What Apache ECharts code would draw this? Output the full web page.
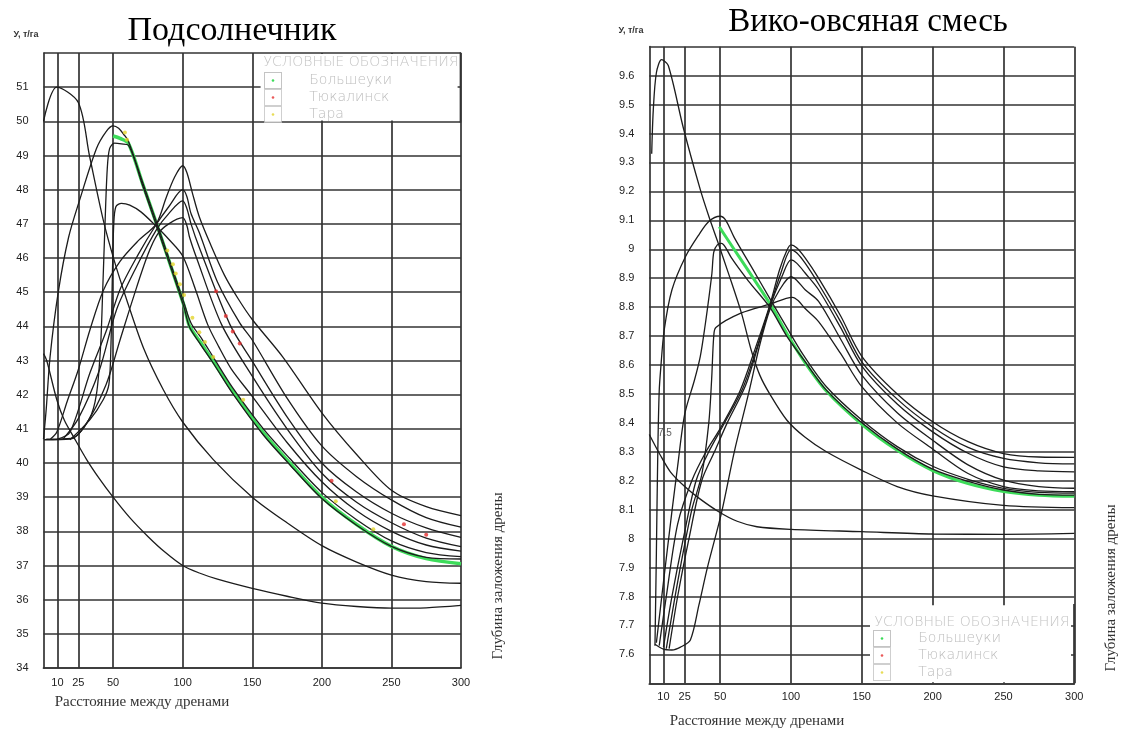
<!DOCTYPE html>
<html><head><meta charset="utf-8">
<script src="https://cdn.jsdelivr.net/npm/echarts@6/dist/echarts.min.js"></script>
<style>html,body{margin:0;padding:0;background:#fff}#c{width:1124px;height:729px}</style>
</head><body><div id="c"></div>
<script>
// ---- shared ticks ----
const xTicks = [10, 25, 50, 100, 150, 200, 250, 300];

// ---- Подсолнечник (left) ----
const sunK = [[0,43.2],[2.3,43.0],[9.5,41.86],[15,41.25],[21.4,40.78],[31,40.1],[40,39.55],[50,39.0],[62,38.4],[75,37.85],[87,37.4],[100,37.0],[112,36.78],[125,36.6],[150,36.33],[175,36.1],[200,35.9],[225,35.8],[250,35.75],[275,35.76],[300,35.83]];
const sunA = [[0,50.0],[9.5,51.0],[25,50.55],[33,49.0],[43,47.1],[51,45.9],[60,44.75],[72,43.35],[86,42.15],[100,41.2],[122,40.1],[150,39.0],[175,38.25],[200,37.58],[225,37.1],[250,36.72],[275,36.53],[300,36.48]];
const sunD = [[0,40.7],[2,41.6],[4.7,43.1],[10.6,45.0],[18,46.6],[26,47.7],[38,49.2],[45,49.7],[50,49.87],[54,49.8],[58,49.6],[61,49.42],[71,48.24],[81,47.07],[91,45.88],[101,44.68],[106,44.1],[114,43.62],[122,43.1],[136,42.2],[158,41.0],[177,40.13],[200,39.14],[225,38.34],[250,37.72],[275,37.38],[300,37.26]];
const sunE = [[2,40.7],[20,40.72],[33,41.3],[38,42.0],[41,43.4],[42.5,45.0],[44.2,47.0],[45.8,48.6],[47.5,49.2],[51,49.36],[56,49.34],[61,49.3],[71,48.15],[81,46.97],[91,45.78],[101,44.55],[105,43.97],[113,43.46],[122,42.92],[136,42.03],[158,40.82],[177,39.95],[200,38.96],[225,38.18],[250,37.56],[275,37.24],[300,37.19]];
const sunF = [[19,40.68],[33.4,41.27],[43,41.86],[47,42.3],[48.5,43.5],[49.5,45.5],[50.5,47.0],[52,47.5],[56,47.6],[62,47.55],[70,47.35],[81,46.93],[90,46.55],[100,46.06],[109,45.1],[118,44.05],[126,43.4],[135,42.75],[150,41.95],[175,40.6],[200,39.45],[225,38.6],[250,38.0],[275,37.6],[300,37.42]];
const sunG = [[5,40.7],[9.5,40.9],[17,41.8],[25,42.73],[33.4,43.9],[43,45.05],[55,45.9],[68,46.5],[81,47.0],[88,47.75],[94,48.35],[100,48.7],[103,48.5],[107,47.9],[112,47.2],[120,46.4],[130,45.5],[140,44.8],[150,44.2],[172,43.1],[200,41.47],[225,40.25],[250,39.2],[275,38.72],[300,38.46]];
const sunH = [[10,40.7],[19,40.9],[33.4,42.64],[45.4,43.9],[55,45.08],[68,46.1],[81,46.98],[90,47.5],[100,48.0],[103,47.8],[106,47.3],[112,46.74],[125,45.3],[141,44.1],[150,43.6],[175,41.9],[200,40.5],[225,39.6],[250,38.92],[275,38.4],[300,38.12]];
const sunI = [[14,40.7],[25,41.3],[40,42.7],[52.6,44.5],[67,45.76],[81.3,46.84],[90,47.3],[100,47.67],[103,47.45],[106,47.0],[112,46.3],[134,44.05],[150,42.98],[175,41.35],[200,40.0],[225,39.15],[250,38.53],[275,38.1],[300,37.82]];
const sunJ = [[0.5,40.68],[19,40.7],[30,41.1],[45,42.3],[55,43.6],[65,44.9],[75,46.1],[82,46.7],[90,47.0],[100,47.18],[103,46.95],[105,46.6],[110,46.0],[128,44.05],[150,42.54],[175,41.0],[200,39.7],[225,38.85],[250,38.25],[275,37.8],[300,37.55]];
const sunGreen = [[50,49.57],[55,49.5],[61,49.36],[71,48.2],[81,47.03],[91,45.82],[101,44.6],[105,44.0],[113,43.52],[122,42.97],[136,42.1],[158,40.88],[177,40.0],[200,39.0],[225,38.2],[250,37.56],[275,37.2],[300,37.05]];
const sunRed = [[124,45.03],[131,44.3],[136,43.85],[141,43.5],[207,39.48],[259,38.21],[275,37.9]];
const sunYellow = [[58.5,49.67],[60,49.46],[89,46.22],[93,45.82],[95,45.55],[98,45.23],[101,44.92],[107,44.25],[112,43.83],[116,43.54],[122,43.1],[143.5,41.85],[210,38.88],[237,38.06]];

// ---- Вико-овсяная смесь (right) ----
const vikR1 = [[1.7,9.33],[2.8,9.48],[5,9.61],[8.7,9.655],[13.4,9.635],[24,9.42],[36,9.206],[42,9.114],[48,9.03],[56,8.915],[65,8.78],[72,8.65],[78,8.565],[85,8.5],[97,8.41],[110,8.35],[125,8.3],[150,8.236],[175,8.18],[200,8.148],[250,8.115],[300,8.107]];
const vikRb = [[0,8.36],[7.6,8.29],[15,8.23],[25,8.18],[35,8.14],[49,8.093],[62,8.06],[76,8.041],[100,8.032],[150,8.024],[200,8.016],[250,8.015],[300,8.018]];
const vikP50a = [[4,7.63],[5,7.95],[6,8.3],[7,8.51],[8.1,8.59],[10.5,8.72],[16,8.86],[25.6,8.975],[35,9.05],[42,9.096],[50,9.114],[54,9.1],[60,9.04],[72,8.94],[85,8.83],[97,8.73],[108.7,8.635],[125,8.525],[150,8.41],[175,8.318],[200,8.25],[225,8.205],[250,8.174],[275,8.16],[300,8.157]];
const vikP50b = [[5,7.64],[10,7.85],[15.8,8.087],[20,8.25],[25,8.43],[32,8.55],[36,8.63],[39.5,8.74],[42,8.83],[44.2,8.917],[45.5,8.99],[48,9.015],[51,9.02],[54,9.005],[58,8.97],[70,8.89],[85,8.8],[97,8.7],[108.7,8.62],[125,8.513],[150,8.4],[175,8.31],[200,8.24],[225,8.198],[250,8.168],[275,8.153],[300,8.15]];
const vikP100a = [[7,7.63],[12,7.8],[20,8.05],[30,8.2],[40,8.3],[50,8.38],[64,8.51],[75,8.66],[85,8.806],[92,8.93],[97,8.995],[100,9.015],[104,9.005],[110,8.97],[119.5,8.9],[135,8.77],[150,8.63],[175,8.5],[200,8.404],[225,8.335],[250,8.294],[275,8.282],[300,8.281]];
const vikP100b = [[10,7.625],[16,7.8],[24,8.0],[33,8.2],[42,8.3],[52,8.39],[66,8.52],[76,8.66],[85,8.8],[93,8.92],[100,8.998],[104,8.988],[110,8.952],[119.5,8.88],[135,8.75],[150,8.611],[175,8.482],[200,8.386],[225,8.315],[250,8.277],[275,8.262],[300,8.258]];
const vikP100c = [[14,7.62],[20,7.8],[28,8.0],[37,8.2],[46,8.3],[55,8.4],[68,8.53],[77,8.67],[85,8.8],[94,8.91],[100,8.963],[104,8.952],[110,8.918],[119.5,8.86],[135,8.73],[150,8.596],[175,8.465],[200,8.369],[225,8.295],[250,8.248],[275,8.234],[300,8.231]];
const vikP100d = [[4,7.635],[10,7.618],[16,7.615],[22,7.625],[29,7.65],[35,7.77],[41,7.9],[51,8.09],[60,8.3],[70,8.5],[78,8.67],[85,8.79],[92,8.86],[100,8.905],[104,8.893],[110,8.86],[119.5,8.82],[135,8.69],[150,8.565],[175,8.435],[200,8.34],[225,8.255],[250,8.202],[275,8.18],[300,8.174]];
const vikQ = [[12,7.62],[20,7.85],[30,8.1],[37,8.22],[42,8.4],[44,8.55],[45.5,8.7],[47,8.73],[65,8.78],[85,8.81],[101,8.834],[105,8.823],[110,8.795],[119.5,8.75],[135,8.64],[150,8.525],[175,8.4],[200,8.31],[225,8.225],[250,8.18],[275,8.165],[300,8.162]];
const vikGreen = [[49.4,9.078],[52,9.058],[85,8.813],[97,8.71],[108.7,8.617],[125,8.51],[150,8.395],[175,8.305],[200,8.235],[225,8.19],[250,8.163],[275,8.15],[300,8.146]];
const vikNote = [[11,8.365]];

const blackSun = [sunK, sunA, sunD, sunE, sunF, sunG, sunH, sunI, sunJ];
const blackVik = [vikR1, vikRb, vikP50a, vikP50b, vikP100a, vikP100b, vikP100c, vikP100d, vikQ];

function legendIcon(c) {
  const svg = '<svg xmlns="http://www.w3.org/2000/svg" width="18" height="17"><rect x="0.5" y="0.5" width="17" height="16" fill="#ffffff" stroke="#c4c4c4" stroke-width="1"/><circle cx="9" cy="8.5" r="1.3" fill="' + c + '"/></svg>';
  return 'image://data:image/svg+xml;charset=utf-8,' + encodeURIComponent(svg);
}
const GREEN = '#3ddc5a', RED = '#e53030', YELLOW = '#e3d42c';
const gridLine = { color: '#333', width: 1.7 };
const labelFont = { fontSize: 11, color: '#222', fontFamily: 'Liberation Sans' };

function xAxis(g, margin) {
  return { type: 'value', gridIndex: g, min: 0, max: 300,
    axisLine: { show: true, onZero: false, lineStyle: gridLine },
    axisTick: { show: false, customValues: xTicks },
    axisLabel: Object.assign({ customValues: xTicks, margin: margin }, labelFont),
    splitLine: { show: true, lineStyle: gridLine } };
}
function blackLine(d, g, i) {
  return { type: 'line', name: 'c' + g + '_' + i, xAxisIndex: g, yAxisIndex: g, data: d,
    smooth: 0.3, symbol: 'none', silent: true, z: 4,
    lineStyle: { color: '#1c1c1c', width: 1.3 } };
}
const series = [];
blackSun.forEach((d, i) => series.push(blackLine(d, 0, i)));
blackVik.forEach((d, i) => series.push(blackLine(d, 1, i)));
series.push({ type: 'line', name: 'Большеуки', xAxisIndex: 0, yAxisIndex: 0, data: sunGreen, smooth: 0.3,
  symbol: 'none', silent: true, z: 3, lineStyle: { color: GREEN, width: 3.5 }, itemStyle: { color: GREEN } });
series.push({ type: 'scatter', name: 'Тюкалинск', xAxisIndex: 0, yAxisIndex: 0, data: sunRed, symbolSize: 4,
  silent: true, z: 5, itemStyle: { color: RED } });
series.push({ type: 'scatter', name: 'Тара', xAxisIndex: 0, yAxisIndex: 0, data: sunYellow, symbolSize: 4,
  silent: true, z: 5, itemStyle: { color: YELLOW } });
series.push({ type: 'line', name: 'Большеуки', xAxisIndex: 1, yAxisIndex: 1, data: vikGreen, smooth: 0.3,
  symbol: 'none', silent: true, z: 3, lineStyle: { color: GREEN, width: 3 }, itemStyle: { color: GREEN } });
series.push({ type: 'scatter', name: 'Тюкалинск', xAxisIndex: 1, yAxisIndex: 1, data: [], itemStyle: { color: RED } });
series.push({ type: 'scatter', name: 'Тара', xAxisIndex: 1, yAxisIndex: 1, data: [], itemStyle: { color: YELLOW } });
series.push({ type: 'scatter', name: 'note', xAxisIndex: 1, yAxisIndex: 1, data: vikNote, symbolSize: 0, silent: true, z: 5,
  label: { show: true, position: 'inside', formatter: '7.5', fontSize: 10, color: '#333', fontFamily: 'Liberation Sans' } });

const legendCommon = { orient: 'vertical', itemWidth: 18, itemHeight: 17, itemGap: 0, padding: 0, selectedMode: false,
  formatter: n => '     ' + n, z: 20,
  textStyle: { color: '#bdbdbd', fontSize: 14, fontFamily: 'DejaVu Sans', fontWeight: 200 },
  data: [{ name: 'Большеуки', icon: legendIcon(GREEN) }, { name: 'Тюкалинск', icon: legendIcon(RED) }, { name: 'Тара', icon: legendIcon(YELLOW) }] };

function txt(x, y, s, font, fill, rot) {
  return { type: 'text', x: x, y: y, rotation: rot || 0, silent: true, z: 100,
    style: { text: s, font: font, fill: fill, align: 'center', verticalAlign: 'middle', textAlign: 'center', textVerticalAlign: 'middle' } };
}
function legendBg(x, y, w, h) {
  return { type: 'rect', silent: true, z: 1, shape: { x: x, y: y, width: w, height: h }, style: { fill: '#fff' } };
}
function borderSeg(x, y1, y2) {
  return { type: 'line', silent: true, z: 200, shape: { x1: x, y1: y1, x2: x, y2: y2 },
    style: { stroke: '#333', lineWidth: 1.7 } };
}
const serif = '"Liberation Serif", "DejaVu Serif", serif';

const chart = echarts.init(document.getElementById('c'), null, { renderer: 'canvas' });
chart.setOption({
  animation: false,
  backgroundColor: '#fff',
  grid: [
    { left: 43.5, top: 53, width: 417.5, height: 615 },
    { left: 649.3, top: 46.7, width: 425, height: 636.6 }
  ],
  xAxis: [xAxis(0, 9), xAxis(1, 8)],
  yAxis: [
    { type: 'value', gridIndex: 0, min: 34, max: 52, interval: 1,
      axisLine: { show: true, lineStyle: gridLine }, axisTick: { show: false },
      axisLabel: Object.assign({ margin: 15, formatter: v => (v > 51.5 ? '' : String(v)) }, labelFont),
      splitLine: { show: true, lineStyle: gridLine } },
    { type: 'value', gridIndex: 1, min: 7.5, max: 9.7, interval: 0.1,
      axisLine: { show: true, lineStyle: gridLine }, axisTick: { show: false },
      axisLabel: Object.assign({ margin: 15, formatter: v => ((v < 7.55 || v > 9.65) ? '' : String(+v.toFixed(1))) }, labelFont),
      splitLine: { show: true, lineStyle: gridLine } }
  ],
  legend: [
    Object.assign({ left: 264, top: 72 }, legendCommon),
    Object.assign({ left: 873, top: 630 }, legendCommon)
  ],
  graphic: [
    legendBg(260.6, 54, 197, 66.4),
    legendBg(870, 605.2, 201, 77.1),
    borderSeg(460.5, 52.5, 122.5),
    borderSeg(1074, 604, 684),
    txt(232, 31, 'Подсолнечник', '34px ' + serif, '#000'),
    txt(868, 22, 'Вико-овсяная смесь', '33px ' + serif, '#000'),
    txt(26, 35, 'У, т/га', 'bold 9px "Liberation Sans", sans-serif', '#333'),
    txt(631, 31, 'У, т/га', 'bold 9px "Liberation Sans", sans-serif', '#333'),
    txt(142, 702, 'Расстояние между дренами', '15px ' + serif, '#333'),
    txt(757, 721, 'Расстояние между дренами', '15px ' + serif, '#333'),
    txt(498, 576, 'Глубина заложения дрены', '15px ' + serif, '#333', Math.PI / 2),
    txt(1111, 588, 'Глубина заложения дрены', '15px ' + serif, '#333', Math.PI / 2),
    txt(361, 62, 'УСЛОВНЫЕ ОБОЗНАЧЕНИЯ', '200 14px "DejaVu Sans", sans-serif', '#c4c4c4'),
    txt(972, 622, 'УСЛОВНЫЕ ОБОЗНАЧЕНИЯ', '200 14px "DejaVu Sans", sans-serif', '#c4c4c4')
  ],
  series: series
});
</script>
</body></html>
